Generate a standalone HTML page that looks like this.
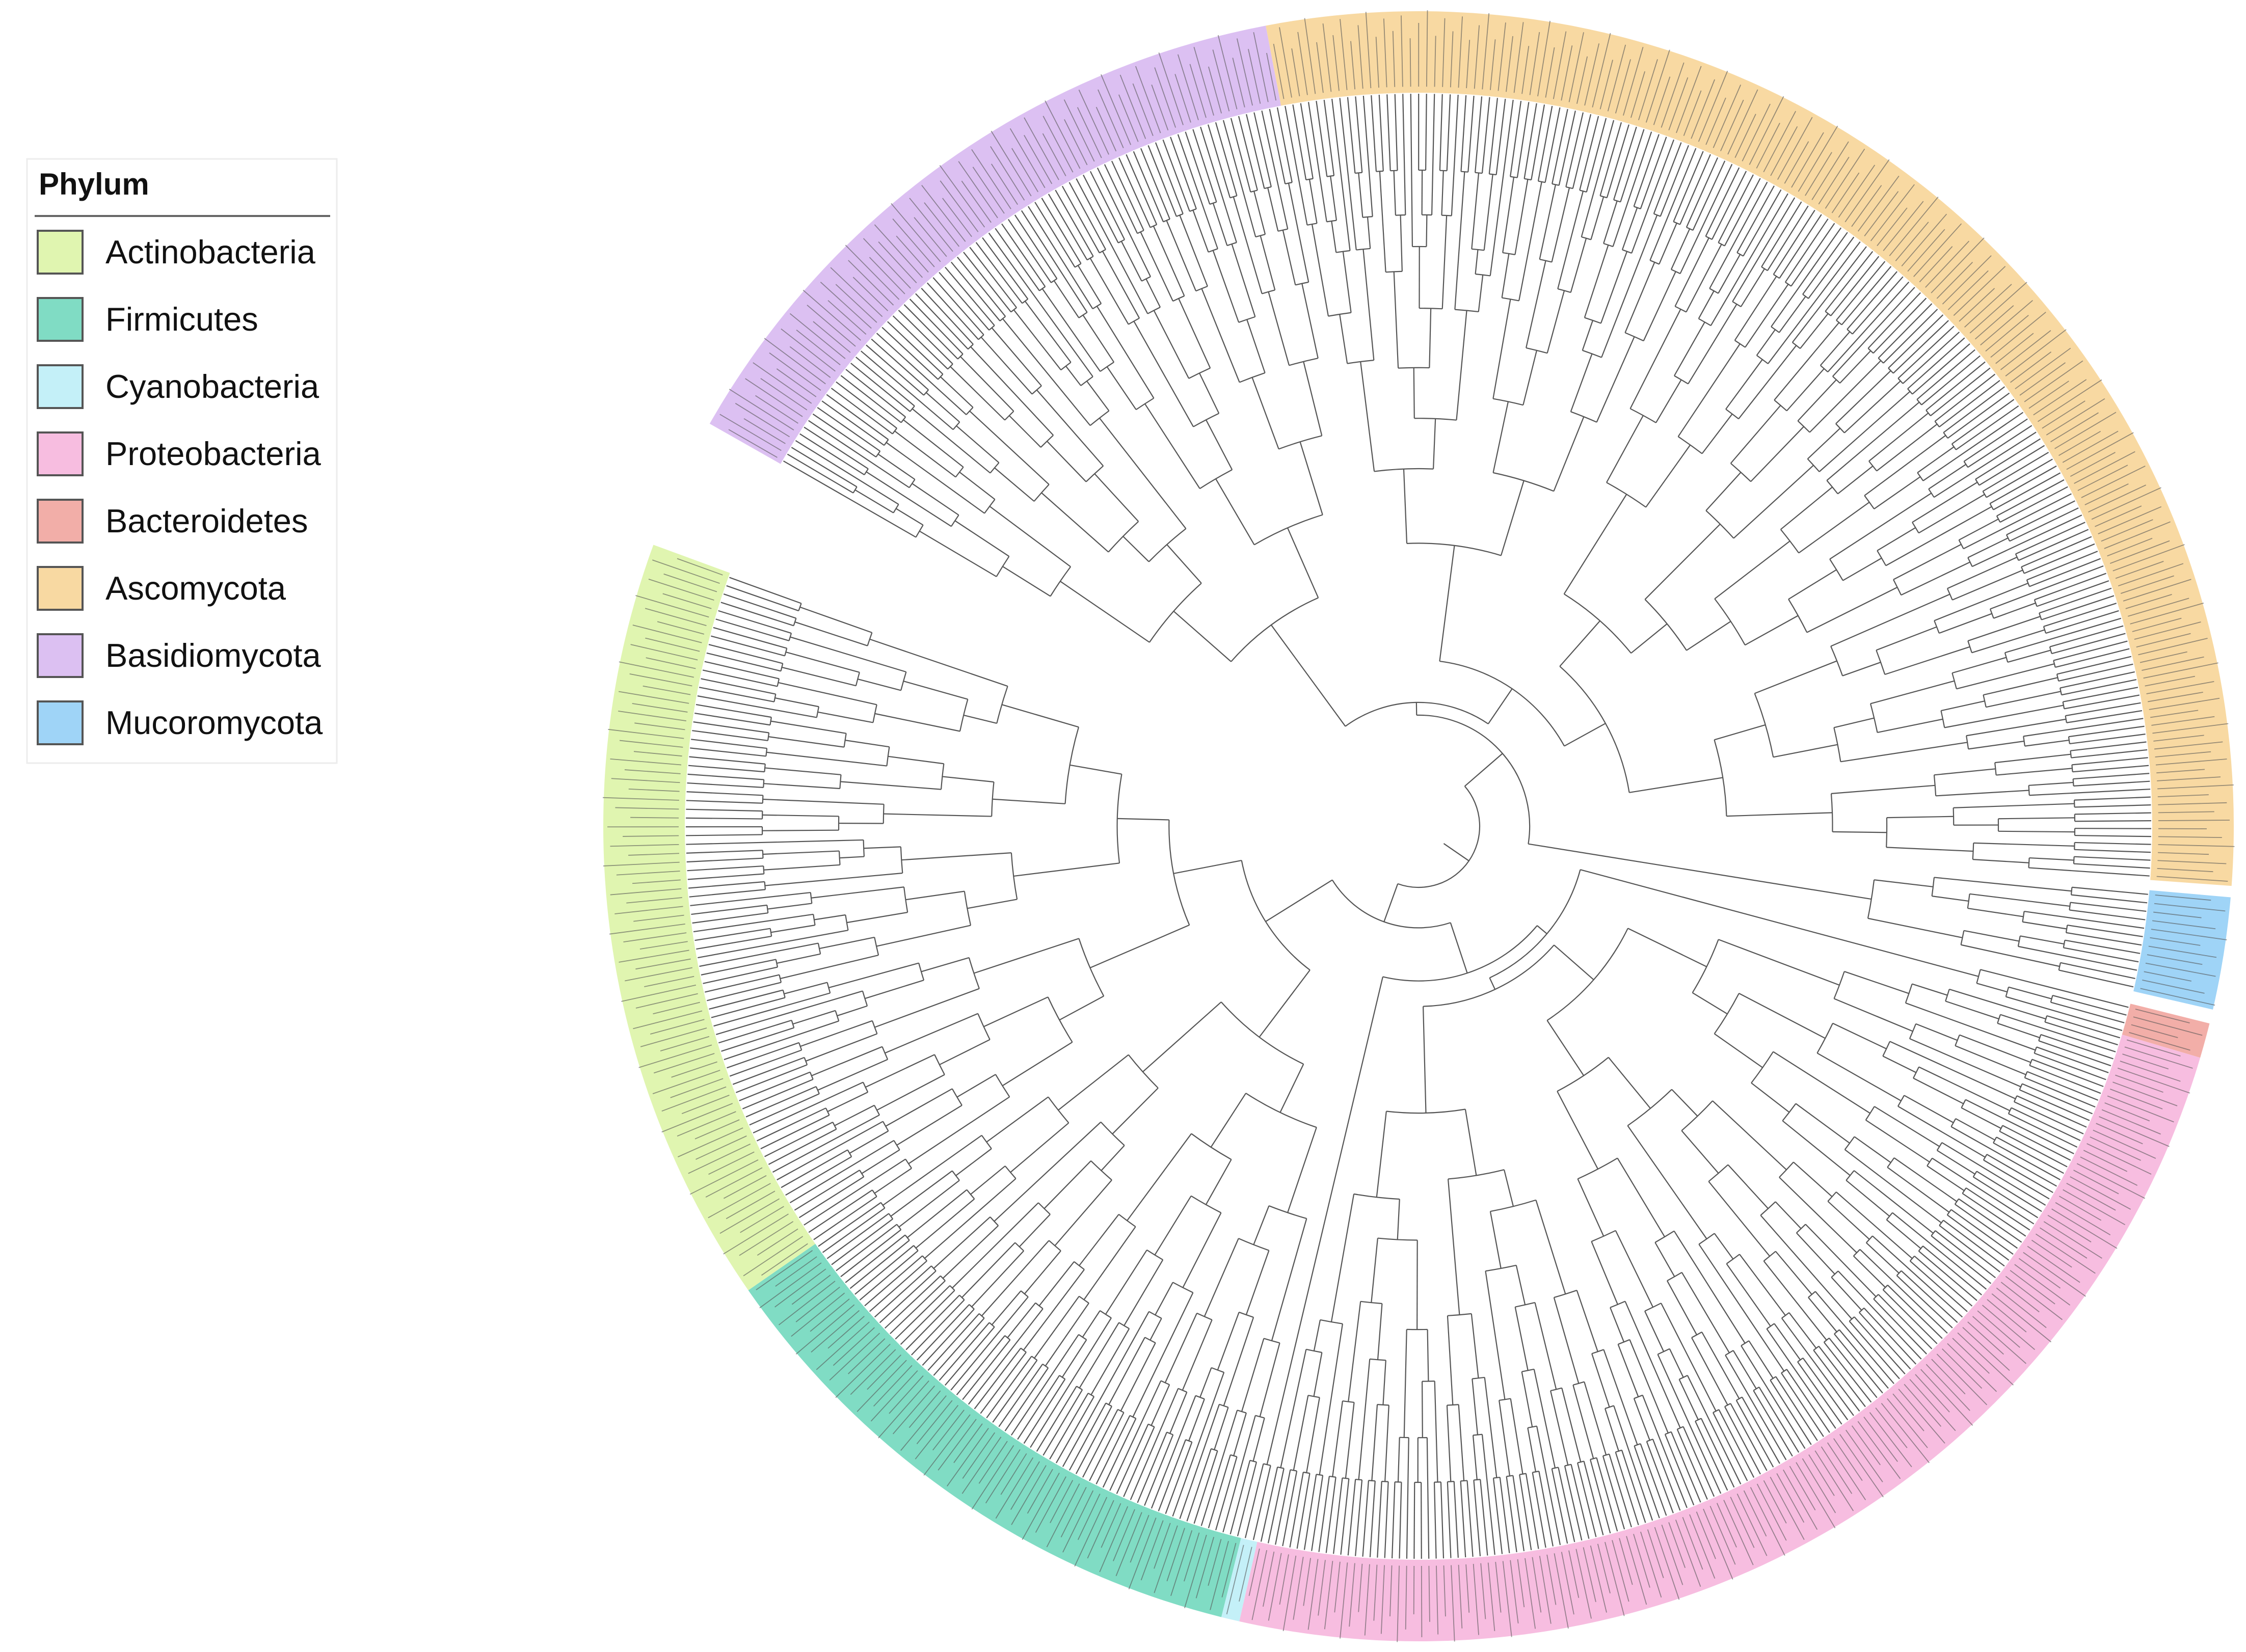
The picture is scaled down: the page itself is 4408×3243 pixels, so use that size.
<!DOCTYPE html>
<html><head><meta charset="utf-8"><style>
html,body{margin:0;padding:0;background:#fff;}
svg{display:block;}
text{font-family:"Liberation Sans",sans-serif;}
</style></head><body>
<svg id="chart" width="4408" height="3243" viewBox="0 0 4408 3243" xmlns="http://www.w3.org/2000/svg">
<g id="bands"></g>
<g id="labels"></g>
<g id="tree" fill="none" stroke="#555" stroke-width="2.2"></g>
<g id="legend"></g>
</svg>
<script>
const phyla = ["Basidiomycota","Ascomycota","Mucoromycota","Bacteroidetes","Proteobacteria","Cyanobacteria","Firmicutes","Actinobacteria"];
const leafCounts = [80, 170, 12, 4, 150, 2, 70, 80];
const startDeg = [209.6, 259.2, 365.0, 374.0, 376.5, 462.7, 464.0, 505.3];
const endDeg = [259.2, 364.2, 373.0, 376.5, 462.7, 464.0, 505.3, 560.2];
const colors = ["#dcc0f2","#f8d9a2","#9fd4f7","#f2aea8","#f7bde0","#c4f0f8","#80dcc4","#e0f5b0"];
const legendOrder = ["Actinobacteria","Firmicutes","Cyanobacteria","Proteobacteria","Bacteroidetes","Ascomycota","Basidiomycota","Mucoromycota"];

const NS="http://www.w3.org/2000/svg";
const CX=2784, CY=1622, RIN=1440, ROUT=1600, RLEAF=1438;
const rad=d=>d*Math.PI/180;
const px=(r,a)=>CX+r*Math.cos(rad(a)), py=(r,a)=>CY+r*Math.sin(rad(a));
function mk(tag,attrs,parent){const e=document.createElementNS(NS,tag);for(const k in attrs)e.setAttribute(k,attrs[k]);parent.appendChild(e);return e;}
function arcPath(r,a0,a1){const large=(a1-a0)>180?1:0;return `M${px(r,a0)},${py(r,a0)} A${r},${r} 0 ${large} 1 ${px(r,a1)},${py(r,a1)}`;}

const bands=document.getElementById('bands');
phyla.forEach((p,i)=>{
  const a0=startDeg[i],a1=endDeg[i],large=(a1-a0)>180?1:0;
  const d=`M${px(ROUT,a0)},${py(ROUT,a0)} A${ROUT},${ROUT} 0 ${large} 1 ${px(ROUT,a1)},${py(ROUT,a1)} L${px(RIN,a1)},${py(RIN,a1)} A${RIN},${RIN} 0 ${large} 0 ${px(RIN,a0)},${py(RIN,a0)} Z`;
  const e=mk('path',{d:d,fill:colors[i]},bands);
  
  
});

const ratios=[0.5,0.38,0.62,0.45,0.3,0.55,0.7,0.42,0.58,0.35];
let rc=0;
const labels=document.getElementById('labels');
const tree=document.getElementById('tree');
function nodeR(n){return Math.max(120,RLEAF-150*Math.log2(n));}
function build(angles,lo,hi){
  if(hi-lo===1){
    return {a:angles[lo],r:RLEAF,n:1};
  }
  let k=lo+Math.max(1,Math.min(hi-lo-1,Math.round((hi-lo)*ratios[rc++%ratios.length])));
  const c1=build(angles,lo,k),c2=build(angles,k,hi);
  return join([c1,c2]);
}
function join(ch){
  const n=ch.reduce((s,c)=>s+c.n,0);
  const r=Math.min(nodeR(n),Math.min(...ch.map(c=>c.r))-25);
  const node={a:(ch[0].a+ch[ch.length-1].a)/2,r:r,n:n};
  ch.forEach(c=>{
    const l=mk('line',{x1:px(r,c.a),y1:py(r,c.a),x2:px(c.r,c.a),y2:py(c.r,c.a)},tree);
    
    
  });
  const arc=mk('path',{d:arcPath(r,ch[0].a,ch[ch.length-1].a)},tree);
  
  
  return node;
}
const lens=[110,140,95,125,150,100,135];
const phNodes=phyla.map((p,i)=>{
  const n=leafCounts[i],angles=[];
  const step=(endDeg[i]-startDeg[i])/n;
  for(let j=0;j<n;j++){
    const a=startDeg[i]+(j+0.5)*step;angles.push(a);
    const L=lens[j%lens.length];
    const t=mk('line',{x1:px(1452,a),y1:py(1452,a),x2:px(1452+L,a),y2:py(1452+L,a),stroke:'#555','stroke-width':1.8,'stroke-opacity':0.6},labels);
    
    
  }
  return build(angles,0,n);
});
function combine(list){
  if(list.length===1)return list[0];
  const m=Math.ceil(list.length/2);
  return join([combine(list.slice(0,m)),combine(list.slice(m))]);
}
const fungi=combine(phNodes.slice(0,3));
const bact=combine(phNodes.slice(3));
const root=join([fungi,bact]);
const stub=mk('line',{x1:px(root.r,root.a),y1:py(root.r,root.a),x2:px(root.r-60,root.a),y2:py(root.r-60,root.a)},tree);



const lg=document.getElementById('legend');
const box=mk('rect',{x:53,y:312,width:608,height:1186,fill:'#fff',stroke:'#ececec','stroke-width':3},lg);


const title=mk('text',{x:76,y:382,'font-size':60,'font-weight':'bold',fill:'#111'},lg);
title.textContent='Phylum';


const div=mk('line',{x1:68,y1:424,x2:648,y2:424,stroke:'#666','stroke-width':4},lg);


legendOrder.forEach((p,i)=>{
  const y=453+i*132;
  const g=mk('g',{},lg);
  
  
  const sw=mk('rect',{x:74,y:y,width:88,height:84,fill:colors[phyla.indexOf(p)],stroke:'#555','stroke-width':4},g);
  
  
  const t=mk('text',{x:207,y:y+64,'font-size':65,fill:'#111'},g);
  t.textContent=p;
  
  
});
</script>
</body></html>
